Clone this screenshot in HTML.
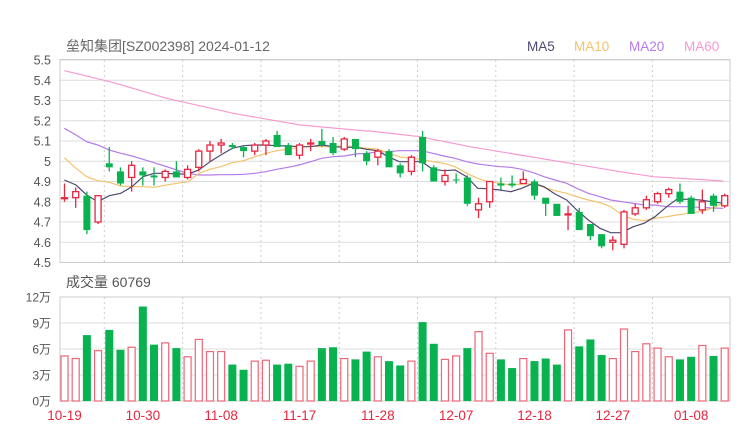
<!DOCTYPE html>
<html><head><meta charset="utf-8"><style>
body{margin:0;background:#fff;}
svg{display:block;font-family:"Liberation Sans","Noto Sans CJK SC",sans-serif;}
</style></head><body>
<svg id="c" width="740" height="440" xmlns="http://www.w3.org/2000/svg"></svg>
<script>
const R='#e8263f',G='#07b24f';
const K=[[4.82,4.89,4.80,4.82,1],[4.82,4.87,4.77,4.85,1],[4.83,4.85,4.64,4.66,0],[4.70,4.83,4.69,4.83,1],[4.99,5.07,4.95,4.97,0],[4.95,4.97,4.88,4.89,0],[4.92,5.00,4.85,4.98,1],[4.95,4.97,4.88,4.93,0],[4.93,4.97,4.88,4.92,0],[4.92,4.96,4.90,4.95,1],
[4.95,5.00,4.92,4.92,0],[4.92,4.98,4.91,4.96,1],[4.97,5.06,4.95,5.05,1],[5.05,5.10,5.00,5.08,1],[5.08,5.11,5.04,5.09,1],[5.08,5.09,5.06,5.07,0],[5.07,5.08,5.02,5.05,0],[5.05,5.09,5.03,5.08,1],[5.08,5.11,5.03,5.10,1],[5.13,5.15,5.07,5.07,0],
[5.08,5.09,5.03,5.03,0],[5.03,5.09,5.01,5.08,1],[5.09,5.11,5.05,5.09,1],[5.10,5.16,5.07,5.08,0],[5.09,5.12,5.03,5.04,0],[5.06,5.12,5.05,5.11,1],[5.11,5.11,5.02,5.06,0],[5.04,5.05,4.98,5.00,0],[5.02,5.06,4.98,5.05,1],[5.05,5.06,4.97,4.97,0],
[4.98,4.99,4.92,4.94,0],[4.95,5.03,4.93,5.02,1],[5.12,5.15,4.95,4.99,0],[4.97,4.98,4.90,4.90,0],[4.90,4.96,4.88,4.93,1],[4.91,4.94,4.89,4.91,0],[4.92,4.93,4.78,4.79,0],[4.76,4.82,4.72,4.79,1],[4.80,4.90,4.77,4.90,1],[4.89,4.92,4.86,4.88,0],
[4.89,4.93,4.87,4.88,0],[4.89,4.95,4.89,4.91,1],[4.90,4.91,4.81,4.83,0],[4.82,4.82,4.73,4.79,0],[4.79,4.79,4.73,4.73,0],[4.74,4.78,4.66,4.74,1],[4.75,4.77,4.66,4.66,0],[4.69,4.69,4.61,4.63,0],[4.64,4.64,4.57,4.58,0],[4.60,4.63,4.56,4.61,1],
[4.59,4.76,4.57,4.75,1],[4.74,4.79,4.73,4.77,1],[4.77,4.83,4.76,4.81,1],[4.80,4.85,4.79,4.84,1],[4.84,4.87,4.82,4.86,1],[4.85,4.89,4.79,4.80,0],[4.82,4.83,4.74,4.74,0],[4.76,4.86,4.74,4.80,1],[4.83,4.84,4.75,4.78,0],[4.78,4.84,4.77,4.83,1]];
const V=[[5.2,1],[4.9,1],[7.6,0],[5.8,1],[8.2,0],[5.9,0],[6.2,1],[10.9,0],[6.5,0],[6.7,1],[6.1,0],[5.1,1],[7.1,1],[5.7,1],[5.7,1],[4.2,0],[3.6,0],[4.6,1],[4.7,1],[4.2,0],[4.3,0],[4.0,1],[4.6,1],[6.1,0],[6.2,0],[4.9,1],[4.8,0],[5.7,0],[5.1,1],[4.6,0],[4.1,0],[4.6,1],[9.1,0],[6.6,0],[4.8,1],[5.2,1],[6.1,0],[8.0,1],[5.5,1],[4.8,0],[3.8,0],[4.9,1],[4.6,0],[4.9,0],[4.2,0],[8.2,1],[6.3,0],[7.1,0],[5.3,0],[4.9,1],[8.3,1],[5.7,1],[6.6,1],[6.1,1],[5.1,1],[4.8,0],[5.1,0],[6.4,1],[5.2,0],[6.1,1]];
const X=i=>64.5+i*11.19, Y=p=>60+(5.5-p)*202.5, VY=v=>401-v*8.67;
let s='';
// grid
for(let k=0;k<=10;k++){let y=60+k*20.25;s+=`<line x1="60" x2="730" y1="${y}" y2="${y}" stroke="#ddd"/>`;
s+=`<text x="51" y="${y+4.5}" font-size="12.5" fill="#555" text-anchor="end">${(5.5-k*0.1).toFixed(1).replace('5.0','5')}</text>`;}
for(let k=0;k<4;k++){let x=104+k*78.3;if(k<8){}}
for(let k=0;k<8;k++){let x=104.3+k*78.3;s+=`<line x1="${x}" x2="${x}" y1="60" y2="263" stroke="#ccc" stroke-dasharray="2,3"/><line x1="${x}" x2="${x}" y1="297" y2="401" stroke="#ccc" stroke-dasharray="2,3"/>`;}
s+=`<rect x="60" y="59.5" width="670" height="203" fill="none" stroke="#ccc"/>`;
for(let k=0;k<=4;k++){let y=297+k*26;s+=`<line x1="60" x2="730" y1="${y}" y2="${y}" stroke="#ddd"/>`;
s+=`<text x="51" y="${y+4.5}" font-size="12" fill="#555" text-anchor="end">${12-3*k}万</text>`;}
s+=`<rect x="60" y="297" width="670" height="104" fill="none" stroke="#ccc"/>`;
// MA lines
function pl(a,off,c){let p=a.map(q=>`${(q[0]/3+off).toFixed(1)},${(30+q[1]/3).toFixed(1)}`).join(' ');return p;}
function line(a1,a2,c){s+=`<polyline fill="none" stroke="${c}" stroke-width="1.2" points="${pl(a1,0)} ${pl(a2,370)}"/>`;}
line([[193,122],[330,155],[500,205],[700,250],[900,285],[1100,303]],[[0,303],[150,320],[300,350],[450,375],[600,400],[750,425],[850,440],[1060,453]],'#f79ad0');
line([[193,295],[228,315],[260,335],[293,345],[328,360],[362,370],[396,378],[429,388],[462,398],[494,408],[530,420],[564,430],[597,435],[630,435],[662,434],[697,434],[731,433],[765,430],[797,425],[830,418],[864,412],[897,405],[932,395],[965,385],[1000,380],[1033,378],[1068,372],[1100,370]],[[22,366],[55,365],[88,362],[120,362],[155,362],[188,370],[222,378],[255,385],[290,395],[323,402],[355,406],[390,410],[422,412],[455,418],[490,428],[522,440],[555,450],[590,460],[620,475],[655,490],[690,500],[722,510],[755,515],[790,520],[822,525],[855,525],[890,530],[920,530],[955,530],[990,532],[1025,534],[1060,535]],'#b57be8');
line([[193,383],[228,415],[260,440],[293,452],[328,457],[362,468],[396,470],[429,470],[462,472],[494,466],[530,460],[564,455],[597,430],[630,418],[662,410],[697,398],[731,392],[765,380],[797,370],[830,362],[864,358],[897,352],[932,348],[965,350],[1000,350],[1033,348],[1068,350],[1100,355]],[[22,357],[55,370],[88,380],[120,385],[155,388],[188,395],[222,400],[255,410],[290,430],[323,445],[355,455],[390,460],[422,465],[455,462],[490,462],[522,472],[555,482],[590,490],[620,500],[655,510],[690,518],[722,530],[755,555],[790,568],[822,572],[855,565],[890,560],[920,555],[955,550],[990,545],[1025,535],[1060,520]],'#f5c26b');
line([[193,450],[228,465],[260,495],[293,515],[328,497],[362,490],[396,470],[429,440],[462,430],[494,430],[530,432],[564,432],[597,420],[630,395],[662,375],[697,355],[731,347],[765,345],[797,345],[830,347],[864,348],[897,350],[932,350],[965,345],[1000,350],[1033,352],[1068,352],[1100,358]],[[22,362],[55,380],[88,395],[120,395],[155,395],[188,418],[222,422],[255,420],[290,440],[323,475],[355,476],[390,480],[422,485],[455,475],[490,460],[522,470],[555,492],[590,510],[620,540],[655,570],[690,595],[722,608],[755,608],[790,590],[822,580],[855,560],[890,530],[920,508],[955,508],[990,510],[1025,515],[1060,520]],'#4d4a6e');
// candles
K.forEach((k,i)=>{let x=X(i),c=k[4]?R:G,t=Math.min(Y(k[0]),Y(k[3])),b=Math.max(Y(k[0]),Y(k[3]));let h=Math.max(b-t,1);
s+=`<line x1="${x}" x2="${x}" y1="${Y(k[1])}" y2="${t}" stroke="${c}" stroke-width="1.3"/><line x1="${x}" x2="${x}" y1="${t+h}" y2="${Y(k[2])}" stroke="${c}" stroke-width="1.3"/>`;
if(k[4])s+=`<rect x="${x-3}" y="${t}" width="6" height="${h}" fill="#fff" stroke="${c}" stroke-width="1.3"/>`;
else s+=`<rect x="${x-3.5}" y="${t}" width="7" height="${h}" fill="${c}"/>`;});
V.forEach((v,i)=>{let x=X(i),y=VY(v[0]);
if(v[1])s+=`<rect x="${x-3.5}" y="${y}" width="7" height="${401-y}" fill="#fff" stroke="#ee6678" stroke-width="1.2"/>`;
else s+=`<rect x="${x-4}" y="${y}" width="8" height="${401-y}" fill="${G}"/>`;});
['10-19','10-30','11-08','11-17','11-28','12-07','12-18','12-27','01-08'].forEach((d,k)=>{s+=`<text x="${X(k*7)}" y="420" font-size="13.5" fill="${R}" text-anchor="middle">${d}</text>`;});
s+=`<text x="66" y="51" font-size="14" fill="#666">垒知集团[SZ002398] 2024-01-12</text>`;
s+=`<text x="527" y="51" font-size="13.5" fill="#4d4a6e">MA5</text><text x="574" y="51" font-size="13.5" fill="#f5c26b">MA10</text><text x="629" y="51" font-size="13.5" fill="#b57be8">MA20</text><text x="684" y="51" font-size="13.5" fill="#f79ad0">MA60</text>`;
s+=`<text x="66" y="287" font-size="14" fill="#555">成交量 60769</text>`;
document.getElementById('c').innerHTML=s;
</script>
</body></html>
